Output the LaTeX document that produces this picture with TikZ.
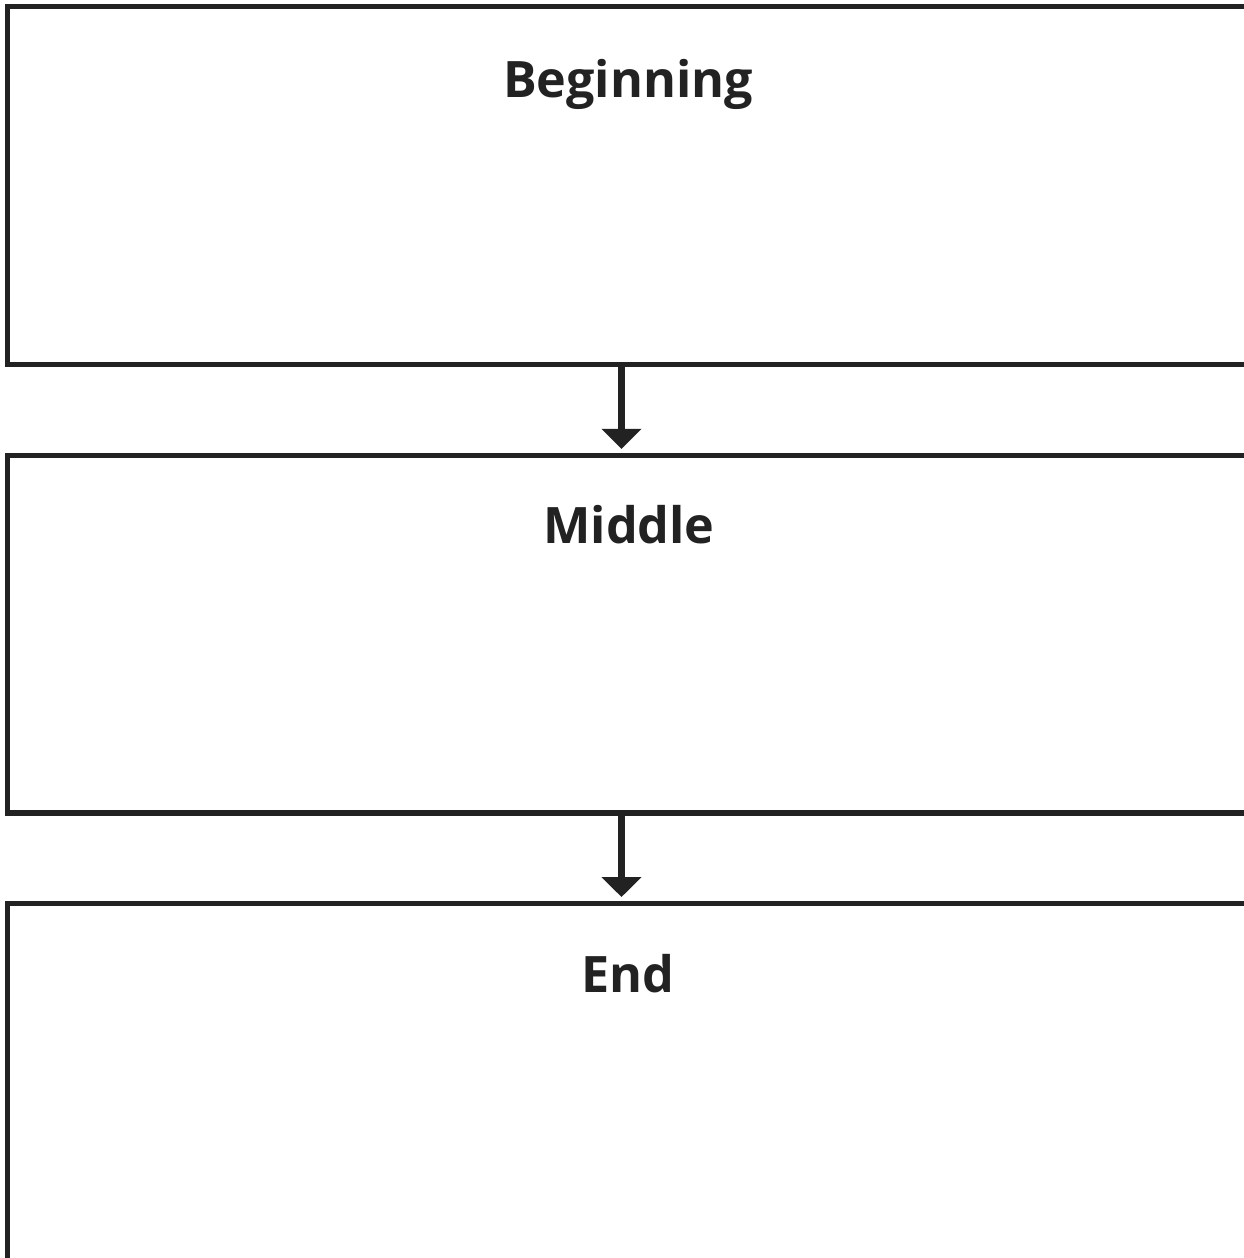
\documentclass[tikz,border=0pt]{standalone}
\usepackage{fontspec}
\setmainfont{Open Sans}
\usetikzlibrary{arrows.meta}
\definecolor{ink}{HTML}{222222}
\tikzset{
  stage/.style={draw=ink, line width=3.1pt, rectangle, minimum width=28cm, inner sep=0pt},
  title/.style={anchor=base, text=ink, font=\fontsize{28.6}{34}\selectfont\bfseries, inner sep=0pt},
  flow/.style={draw=ink, line width=4pt, -{Triangle[length=0.4cm, width=0.78cm]}, shorten >=0.08cm}
}

\begin{document}
\begin{tikzpicture}[x=0.02cm, y=-0.02cm]
	%%%%% FRAME %%%%%
	\useasboundingbox (0, 0) rectangle (1244, 1258);
	\clip (0, 0) rectangle (1244, 1258);
	
	%%%%% BOXES %%%%%
	\node[stage, minimum height=7.16cm] (beg) at (707.5, 185.5) {};
	\node[stage, minimum height=7.15cm] (mid) at (707.5, 634.3) {};
	\node[stage, minimum height=8cm] (fin) at (707.5, 1103.7) {};
	
	\node[title] (begt) at (628, 97) {Beginning};
	\node[title] (midt) at (629, 543) {Middle};
	\node[title] (fint) at (628, 992) {End};
	
	%%%%% ARROWS %%%%%
	\coordinate (axis) at (621.5, 0);
	\draw[flow] (beg.south -| axis) -- (mid.north -| axis);
	\draw[flow] (mid.south -| axis) -- (fin.north -| axis);
\end{tikzpicture}
\end{document}
